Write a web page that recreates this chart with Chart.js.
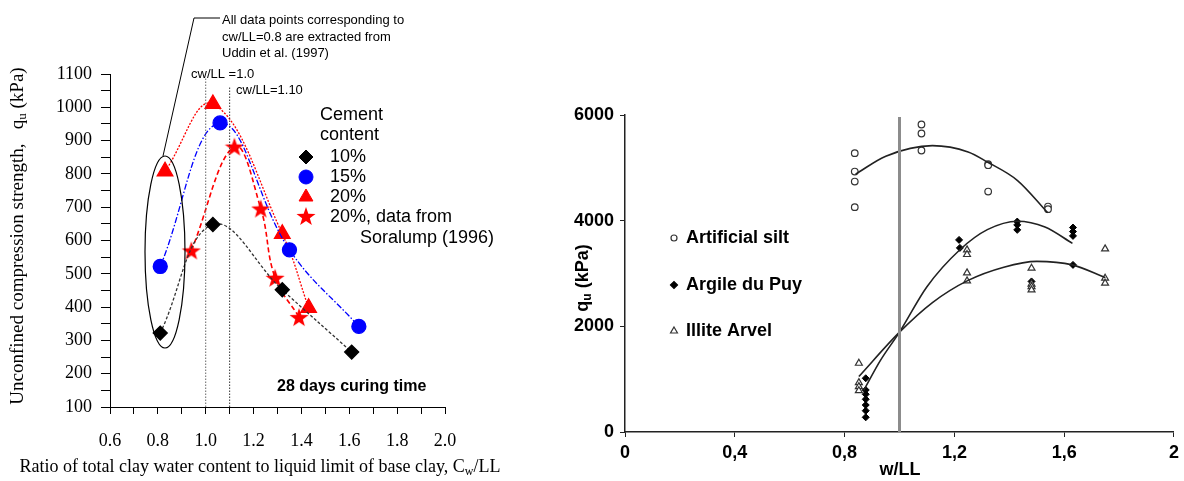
<!DOCTYPE html>
<html>
<head>
<meta charset="utf-8">
<script src="https://cdn.jsdelivr.net/npm/chart.js@4/dist/chart.umd.min.js"></script>
<style>
    html, body { margin: 0; padding: 0; background: #fff; }
    #leftBox { position: absolute; left: 0; top: 0; width: 540px; height: 481px; }
    #rightBox { position: absolute; left: 560px; top: 0; width: 624px; height: 481px; }
</style>
</head>
<body>
<div id="leftBox"><canvas id="cementChart" width="540" height="481"></canvas></div>
<div id="rightBox"><canvas id="wllChart" width="624" height="481"></canvas></div>
<script>
// left chart: cement content, 28 days curing
const cement10 = [[0.81, 322], [1.03, 648], [1.32, 452], [1.61, 265]];
const cement15 = [[0.81, 522], [1.06, 953], [1.35, 572], [1.64, 342]];
const cement20 = [[0.83, 808], [1.03, 1010], [1.32, 620], [1.43, 398]];
const soralump20 = [[0.94, 570], [1.12, 882], [1.23, 696], [1.29, 488], [1.39, 370]];
const cwLines = [[1.0, 1091], [1.1, 1061]];
const leftYTicks = [100, 1100, 50];
const leftXTicks = [0.6, 2.0, 0.1];

// right chart: qu vs w/LL
const siltPoints = [[0.837, 5278], [0.837, 4930], [0.837, 4740], [0.837, 4256], [1.08, 5820], [1.08, 5650],
    [1.08, 5328], [1.323, 5070], [1.323, 5050], [1.323, 4551], [1.541, 4267], [1.541, 4218]];
const argilePoints = [[0.877, 1017], [0.877, 795], [0.877, 714], [0.877, 619], [0.877, 511], [0.877, 403],
    [0.877, 278], [1.217, 3636], [1.22, 3485], [1.429, 3983], [1.429, 3920], [1.429, 3826], [1.632, 3870],
    [1.632, 3794], [1.632, 3712], [1.632, 3163], [1.481, 2850]];
const illitePoints = [[0.852, 1301], [0.852, 934], [0.852, 858], [0.852, 782], [1.246, 3447], [1.246, 3360],
    [1.246, 3011], [1.246, 2860], [1.481, 3100], [1.481, 2800], [1.481, 2752], [1.481, 2689], [1.749, 3466],
    [1.749, 2911], [1.749, 2816]];
// trend curves, read along the drawn fits
const siltFit = [[0.84, 4880], [0.95, 5220], [1.12, 5420], [1.25, 5300], [1.32, 5110], [1.43, 4760], [1.54, 4150]];
const argileFit = [[0.87, 790], [0.93, 1350], [1.0, 1890], [1.1, 2750], [1.22, 3450], [1.32, 3830], [1.43, 3990],
    [1.53, 3880], [1.63, 3570]];
const illiteFit = [[0.852, 1050], [1.0, 1890], [1.12, 2450], [1.25, 2870], [1.38, 3120], [1.5, 3230], [1.63, 3163],
    [1.75, 2920]];
const wllLine = [[1.0, 0], [1.0, 5960]];
const rightYTicks = [0, 6000, 2000];
const rightXTicks = [0, 2, 0.4];

const SERIF = '"Liberation Serif", "Times New Roman", serif';
const SANS = '"Liberation Sans", Arial, sans-serif';

function toXY(arr) {
    return arr.map(p => ({ x: p[0], y: p[1] }));
}

function makeStar(size, color) {
    const c = document.createElement('canvas');
    c.width = size;
    c.height = size;
    const g = c.getContext('2d');
    g.beginPath();
    for (let i = 0; i < 10; i++) {
        const r = i % 2 ? size * 0.2 : size * 0.5;
        const a = -Math.PI / 2 + i * Math.PI / 5;
        const px = size / 2 + r * Math.cos(a);
        const py = size / 2 + 1 + r * Math.sin(a);
        if (i === 0) g.moveTo(px, py); else g.lineTo(px, py);
    }
    g.closePath();
    g.fillStyle = color;
    g.fill();
    return c;
}

document.addEventListener('DOMContentLoaded', () => {
    Chart.defaults.color = '#000';
    const star = makeStar(20, '#ff0000');

    function initCementChart() {
        const canvas = document.getElementById('cementChart');

        const annotations = {
            id: 'cementAnnotations',
            afterDraw(chart) {
                const ctx = chart.ctx;
                ctx.save();
                ctx.strokeStyle = '#000';
                ctx.lineWidth = 1.2;
                ctx.beginPath();
                ctx.ellipse(165, 252, 20, 96, 0, 0, Math.PI * 2);
                ctx.stroke();
                ctx.lineWidth = 1;
                ctx.beginPath();
                ctx.moveTo(163, 156);
                ctx.lineTo(194, 18);
                ctx.lineTo(220, 18);
                ctx.stroke();

                ctx.fillStyle = '#000';
                ctx.textBaseline = 'middle';
                ctx.textAlign = 'left';
                ctx.font = '13px ' + SANS;
                ctx.fillText('All data points corresponding to', 222, 20);
                ctx.fillText('cw/LL=0.8 are extracted from', 222, 37);
                ctx.fillText('Uddin et al. (1997)', 222, 53);
                ctx.fillText('cw/LL =1.0', 191, 74);
                ctx.fillText('cw/LL=1.10', 236, 90);

                ctx.font = '18px ' + SANS;
                ctx.fillText('Cement', 320, 115);
                ctx.fillText('content', 320, 135);
                ctx.fillText('10%', 330, 157);
                ctx.fillText('15%', 330, 177);
                ctx.fillText('20%', 330, 197);
                ctx.fillText('20%, data from', 330, 217);
                ctx.fillText('Soralump (1996)', 360, 238);

                const h = Chart.helpers;
                ctx.fillStyle = '#000';
                ctx.strokeStyle = '#000';
                h.drawPoint(ctx, { pointStyle: 'rectRot', radius: 7, borderWidth: 1 }, 306, 157);
                ctx.fillStyle = '#0000ff';
                ctx.strokeStyle = '#0000ff';
                h.drawPoint(ctx, { pointStyle: 'circle', radius: 7, borderWidth: 1 }, 306, 177);
                ctx.fillStyle = '#ff0000';
                ctx.strokeStyle = '#ff0000';
                h.drawPoint(ctx, { pointStyle: 'triangle', radius: 8, borderWidth: 1 }, 306, 197);
                ctx.drawImage(star, 296, 206);

                ctx.fillStyle = '#000';
                ctx.font = 'bold 16px ' + SANS;
                ctx.fillText('28 days curing time', 277, 387);

                // axis titles
                ctx.font = '18px ' + SERIF;
                const t1 = 'Ratio of total clay water content to liquid limit of base clay, C';
                const w1 = ctx.measureText(t1).width;
                ctx.font = '12px ' + SERIF;
                const ws = ctx.measureText('w').width;
                ctx.font = '18px ' + SERIF;
                const w2 = ctx.measureText('/LL').width;
                let x0 = 260 - (w1 + ws + w2) / 2;
                ctx.fillText(t1, x0, 467);
                ctx.font = '12px ' + SERIF;
                ctx.fillText('w', x0 + w1, 472);
                ctx.font = '18px ' + SERIF;
                ctx.fillText('/LL', x0 + w1 + ws, 467);

                ctx.translate(18, 236);
                ctx.rotate(-Math.PI / 2);
                ctx.font = '19px ' + SERIF;
                const a1 = 'Unconfined compression strength,   q';
                const a3 = ' (kPa)';
                const aw1 = ctx.measureText(a1).width;
                const aw3 = ctx.measureText(a3).width;
                ctx.font = '13px ' + SERIF;
                const aw2 = ctx.measureText('u').width;
                x0 = -(aw1 + aw2 + aw3) / 2;
                ctx.font = '19px ' + SERIF;
                ctx.fillText(a1, x0, 0);
                ctx.fillText(a3, x0 + aw1 + aw2, 0);
                ctx.font = '13px ' + SERIF;
                ctx.fillText('u', x0 + aw1, 5);
                ctx.restore();
            }
        };

        new Chart(canvas, {
            type: 'scatter',
            data: {
                datasets: [{
                    label: 'cw/LL=1.0',
                    data: toXY([[cwLines[0][0], 100], cwLines[0]]),
                    showLine: true,
                    borderColor: '#666',
                    borderWidth: 1,
                    borderDash: [1.5, 1.5],
                    pointRadius: 0,
                }, {
                    label: 'cw/LL=1.10',
                    data: toXY([[cwLines[1][0], 100], cwLines[1]]),
                    showLine: true,
                    borderColor: '#333',
                    borderWidth: 1,
                    borderDash: [1.5, 1.5],
                    pointRadius: 0,
                }, {
                    label: '10%',
                    data: toXY(cement10),
                    showLine: true,
                    tension: 0.4,
                    borderColor: '#333',
                    borderWidth: 1.3,
                    borderDash: [3, 2],
                    pointStyle: 'rectRot',
                    pointRadius: 7,
                    pointBackgroundColor: '#000',
                    pointBorderColor: '#000',
                }, {
                    label: '15%',
                    data: toXY(cement15),
                    showLine: true,
                    tension: 0.4,
                    borderColor: '#0000ff',
                    borderWidth: 1.3,
                    borderDash: [6, 2, 1.5, 2],
                    pointStyle: 'circle',
                    pointRadius: 7,
                    pointBackgroundColor: '#0000ff',
                    pointBorderColor: '#0000ff',
                }, {
                    label: '20%',
                    data: toXY(cement20),
                    showLine: true,
                    tension: 0.4,
                    borderColor: '#ff0000',
                    borderWidth: 1.3,
                    borderDash: [2, 1.5],
                    pointStyle: 'triangle',
                    pointRadius: 9,
                    pointBackgroundColor: '#ff0000',
                    pointBorderColor: '#ff0000',
                }, {
                    label: '20%, Soralump (1996)',
                    data: toXY(soralump20),
                    showLine: true,
                    tension: 0.4,
                    borderColor: '#ff0000',
                    borderWidth: 1.6,
                    borderDash: [5, 3],
                    pointStyle: star,
                    pointRadius: 10,
                }]
            },
            options: {
                responsive: false,
                animation: false,
                layout: { padding: { top: 74, right: 95, left: 0, bottom: 0 } },
                scales: {
                    x: {
                        min: leftXTicks[0],
                        max: leftXTicks[1],
                        afterFit: (scale) => { scale.height = 74; },
                        grid: { drawOnChartArea: false, color: '#000', tickLength: 7 },
                        border: { color: '#000', width: 1 },
                        ticks: {
                            stepSize: leftXTicks[2],
                            autoSkip: false,
                            maxRotation: 0,
                            padding: 16,
                            font: { family: SERIF, size: 18 },
                            callback: function (value) {
                                const v = Math.round(value * 10);
                                return v % 2 === 0 ? (v / 10).toFixed(1) : '';
                            }
                        }
                    },
                    y: {
                        min: leftYTicks[0],
                        max: leftYTicks[1],
                        afterFit: (scale) => { scale.width = 110; },
                        grid: { drawOnChartArea: false, color: '#000', tickLength: 9 },
                        border: { color: '#000', width: 1 },
                        ticks: {
                            stepSize: leftYTicks[2],
                            autoSkip: false,
                            padding: 9,
                            font: { family: SERIF, size: 18 },
                            callback: function (value) {
                                return value % 100 === 0 ? String(value) : '';
                            }
                        }
                    }
                },
                plugins: {
                    legend: { display: false },
                    tooltip: { enabled: false }
                }
            },
            plugins: [annotations]
        });
    }

    function initWllChart() {
        const canvas = document.getElementById('wllChart');

        const extras = {
            id: 'wllExtras',
            afterDraw(chart) {
                const ctx = chart.ctx;
                const h = Chart.helpers;
                ctx.save();
                ctx.fillStyle = '#000';
                ctx.textBaseline = 'middle';
                ctx.textAlign = 'left';
                ctx.font = 'bold 18px ' + SANS;
                ctx.fillText('Artificial silt', 126, 238);
                ctx.fillText('Argile du Puy', 126, 285);
                ctx.fillText('Illite Arvel', 126, 331);

                ctx.lineWidth = 1.2;
                ctx.strokeStyle = '#333';
                ctx.fillStyle = '#fff';
                h.drawPoint(ctx, { pointStyle: 'circle', radius: 3, borderWidth: 1.2 }, 114, 238);
                h.drawPoint(ctx, { pointStyle: 'triangle', radius: 4, borderWidth: 1.2 }, 114, 331);
                ctx.fillStyle = '#000';
                ctx.strokeStyle = '#000';
                h.drawPoint(ctx, { pointStyle: 'rectRot', radius: 3.5, borderWidth: 1 }, 114, 285);

                ctx.fillStyle = '#000';
                ctx.textAlign = 'center';
                ctx.fillText('w/LL', 340, 470);

                ctx.translate(23, 278);
                ctx.rotate(-Math.PI / 2);
                const q = 'q';
                const rest = ' (kPa)';
                const wq = ctx.measureText(q).width;
                const wr = ctx.measureText(rest).width;
                ctx.font = 'bold 12px ' + SANS;
                const wu = ctx.measureText('u').width;
                const x0 = -(wq + wu + wr) / 2;
                ctx.textAlign = 'left';
                ctx.font = 'bold 18px ' + SANS;
                ctx.fillText(q, x0, 0);
                ctx.fillText(rest, x0 + wq + wu, 0);
                ctx.font = 'bold 12px ' + SANS;
                ctx.fillText('u', x0 + wq, 5);
                ctx.restore();
            }
        };

        const fitLine = {
            showLine: true,
            cubicInterpolationMode: 'monotone',
            borderColor: '#222',
            borderWidth: 1.6,
            pointRadius: 0,
        };

        new Chart(canvas, {
            type: 'scatter',
            data: {
                datasets: [{
                    label: 'w/LL = 1',
                    data: toXY(wllLine),
                    showLine: true,
                    borderColor: '#8c8c8c',
                    borderWidth: 3,
                    pointRadius: 0,
                },
                Object.assign({ label: 'Artificial silt fit', data: toXY(siltFit) }, fitLine),
                Object.assign({ label: 'Argile du Puy fit', data: toXY(argileFit) }, fitLine),
                Object.assign({ label: 'Illite Arvel fit', data: toXY(illiteFit) }, fitLine),
                {
                    label: 'Artificial silt',
                    data: toXY(siltPoints),
                    pointStyle: 'circle',
                    pointRadius: 3.3,
                    pointBorderWidth: 1.2,
                    pointBorderColor: '#333',
                    pointBackgroundColor: '#fff',
                }, {
                    label: 'Illite Arvel',
                    data: toXY(illitePoints),
                    pointStyle: 'triangle',
                    pointRadius: 4,
                    pointBorderWidth: 1.2,
                    pointBorderColor: '#333',
                    pointBackgroundColor: '#fff',
                }, {
                    label: 'Argile du Puy',
                    data: toXY(argilePoints),
                    pointStyle: 'rectRot',
                    pointRadius: 3.5,
                    pointBorderWidth: 1,
                    pointBorderColor: '#000',
                    pointBackgroundColor: '#000',
                }]
            },
            options: {
                responsive: false,
                animation: false,
                layout: { padding: { top: 115, right: 9, left: 0, bottom: 0 } },
                scales: {
                    x: {
                        min: rightXTicks[0],
                        max: rightXTicks[1],
                        afterFit: (scale) => { scale.height = 49; },
                        grid: { drawOnChartArea: false, color: '#222', tickLength: 5 },
                        border: { color: '#222', width: 1.5 },
                        ticks: {
                            stepSize: rightXTicks[2],
                            autoSkip: false,
                            maxRotation: 0,
                            padding: 5,
                            font: { family: SANS, size: 18, weight: 'bold' },
                            callback: function (value) {
                                const v = Math.round(value * 10) / 10;
                                if (v === 0 || v === 2) {
                                    return String(v);
                                }
                                return v.toFixed(1).replace('.', ',');
                            }
                        }
                    },
                    y: {
                        min: rightYTicks[0],
                        max: rightYTicks[1],
                        afterFit: (scale) => { scale.width = 65; },
                        grid: { drawOnChartArea: false, color: '#222', tickLength: 5 },
                        border: { color: '#222', width: 1.5 },
                        ticks: {
                            stepSize: rightYTicks[2],
                            autoSkip: false,
                            padding: 6,
                            font: { family: SANS, size: 18, weight: 'bold' },
                            callback: function (value) {
                                return String(value);
                            }
                        }
                    }
                },
                plugins: {
                    legend: { display: false },
                    tooltip: { enabled: false }
                }
            },
            plugins: [extras]
        });
    }

    initCementChart();
    initWllChart();
});
</script>
</body>
</html>
